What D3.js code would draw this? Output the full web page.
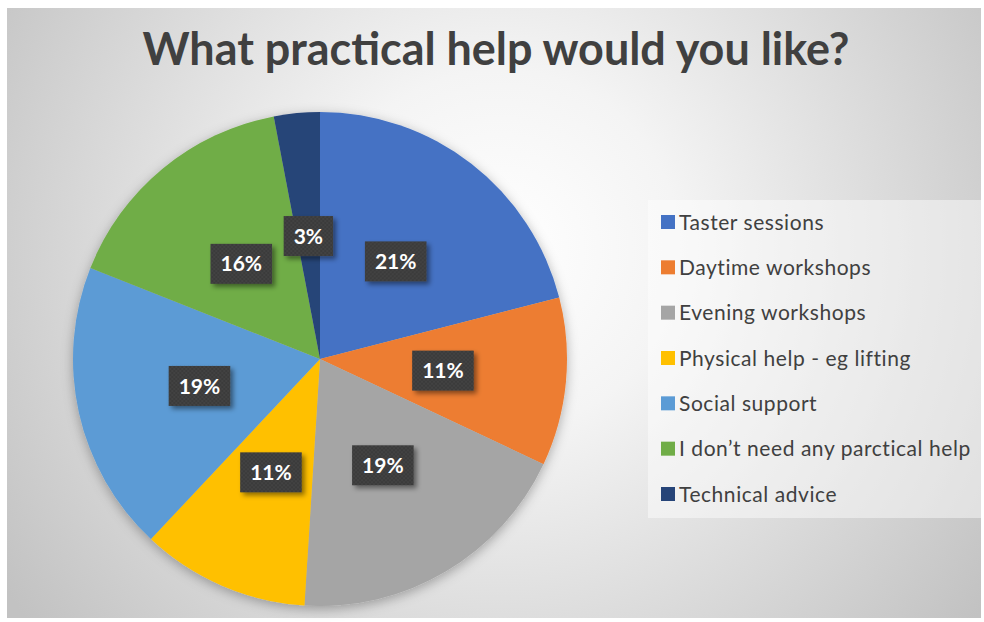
<!DOCTYPE html>
<html>
<head>
<meta charset="utf-8">
<script src="https://cdn.jsdelivr.net/npm/d3@7"></script>
<style>
  body { margin: 0; background: #fff; }
  text { font-family: Lato, "Open Sans", sans-serif; }
</style>
</head>
<body>
<svg id="chart" width="984" height="622"></svg>
<script>
// Survey answers: share of respondents per kind of practical help (percent)
const categories = [
  "Taster sessions",
  "Daytime workshops",
  "Evening workshops",
  "Physical help - eg lifting",
  "Social support",
  "I don\u2019t need any parctical help",
  "Technical advice"
];
const shares = [21, 11, 19, 11, 19, 16, 3];
const colors = ["#4472C4", "#ED7D31", "#A5A5A5", "#FFC000", "#5B9BD5", "#70AD47", "#264478"];
const title = "What practical help would you like?";

const svg = d3.select("#chart");
const defs = svg.append("defs");

// chart-area background: soft radial grey
const bg = defs.append("radialGradient").attr("id", "bgGrad")
  .attr("gradientUnits", "userSpaceOnUse")
  .attr("cx", 500).attr("cy", 250).attr("r", 600);
bg.append("stop").attr("offset", 0).attr("stop-color", "#ffffff");
bg.append("stop").attr("offset", 0.3).attr("stop-color", "#f4f4f4");
bg.append("stop").attr("offset", 1).attr("stop-color", "#c2c2c2");

// soft shadow under the pie
const pieShadow = defs.append("filter").attr("id", "pieShadow")
  .attr("x", "-20%").attr("y", "-20%").attr("width", "140%").attr("height", "140%");
pieShadow.append("feDropShadow").attr("dx", 0).attr("dy", 3).attr("stdDeviation", 6)
  .attr("flood-color", "#000").attr("flood-opacity", 0.3);

// drop shadow for the value boxes
const boxShadow = defs.append("filter").attr("id", "boxShadow")
  .attr("x", "-30%").attr("y", "-30%").attr("width", "160%").attr("height", "160%");
boxShadow.append("feDropShadow").attr("dx", 3).attr("dy", 3).attr("stdDeviation", 2.5)
  .attr("flood-color", "#000").attr("flood-opacity", 0.45);

// dotted texture for the value boxes
const dots = defs.append("pattern").attr("id", "dots")
  .attr("width", 4).attr("height", 4).attr("patternUnits", "userSpaceOnUse");
dots.append("rect").attr("width", 4).attr("height", 4).attr("fill", "#3a3a3a");
dots.append("circle").attr("cx", 1).attr("cy", 1).attr("r", 0.8).attr("fill", "#4e4e4e");
dots.append("circle").attr("cx", 3).attr("cy", 3).attr("r", 0.8).attr("fill", "#4e4e4e");

svg.append("rect").attr("x", 7).attr("y", 8).attr("width", 974).attr("height", 610)
  .attr("fill", "url(#bgGrad)");

// title
svg.append("text")
  .attr("x", 496).attr("y", 65)
  .attr("text-anchor", "middle")
  .attr("font-size", 45).attr("font-weight", 700)
  .attr("fill", "#404040")
  .attr("textLength", 707).attr("lengthAdjust", "spacingAndGlyphs")
  .text(title);

// pie
const cx = 320, cy = 359, R = 247;
const pie = d3.pie().sort(null).value(d => d.v);
const data = categories.map((c, i) => ({ c, v: shares[i], color: colors[i] }));
const arcs = pie(data);
const arc = d3.arc().innerRadius(0).outerRadius(R);

const g = svg.append("g").attr("transform", `translate(${cx},${cy})`);
g.append("g").attr("filter", "url(#pieShadow)")
  .selectAll("path").data(arcs).join("path")
  .attr("d", arc)
  .attr("fill", d => d.data.color);

// value labels in dark boxes at the slice centroids
const labels = g.selectAll("g.lbl").data(arcs).join("g").attr("class", "lbl")
  .attr("transform", d => `translate(${arc.centroid(d)})`);
labels.each(function(d) {
  const sel = d3.select(this);
  const t = sel.append("text")
    .attr("text-anchor", "middle").attr("dy", "0.36em")
    .attr("font-size", 21).attr("font-weight", 700)
    .attr("fill", "#ffffff")
    .text(d.data.v + "%");
  const bb = t.node().getBBox();
  const bw = bb.width + 20, bh = 40;
  sel.insert("rect", "text")
    .attr("x", -bw / 2).attr("y", -bh / 2)
    .attr("width", bw).attr("height", bh)
    .attr("fill", "url(#dots)")
    .attr("filter", "url(#boxShadow)");
});

// legend
svg.append("rect").attr("x", 648).attr("y", 200).attr("width", 336).attr("height", 318)
  .attr("fill", "#ffffff").attr("fill-opacity", 0.45);

const ly = d3.scalePoint().domain(categories).range([222, 494]);
const legend = svg.append("g").selectAll("g").data(data).join("g")
  .attr("transform", d => `translate(661,${ly(d.c)})`);
legend.append("rect").attr("x", 0).attr("y", -7).attr("width", 14).attr("height", 14)
  .attr("fill", d => d.color);
legend.append("text").attr("x", 18).attr("dy", "0.36em")
  .attr("font-size", 21).attr("letter-spacing", 0.55).attr("fill", "#404040")
  .text(d => d.c);
</script>
</body>
</html>
